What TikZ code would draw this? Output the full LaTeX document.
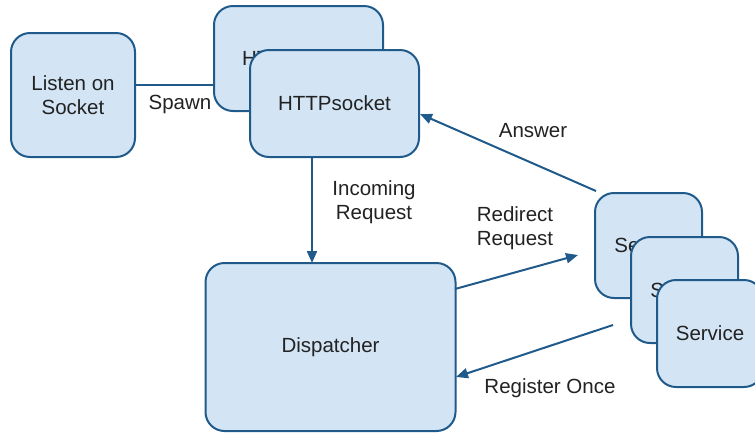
\documentclass[tikz,border=0pt]{standalone}
\usepackage{fontspec}
\setmainfont{Liberation Sans}
\usetikzlibrary{arrows.meta}
\definecolor{boxfill}{HTML}{D3E5F5}
\definecolor{boxline}{HTML}{1F5A8A}
\definecolor{txt}{HTML}{222222}
\tikzset{
  box/.style={draw=boxline, fill=boxfill, line width=2pt, rounded corners=19pt,
    text=txt, font=\fontsize{20.5}{23.5}\selectfont, align=center, inner sep=0pt},
  conn/.style={draw=boxline, line width=2pt},
  arr/.style={conn, -{Triangle[length=12pt,width=10pt]}},
  lbl/.style={text=txt, font=\fontsize{20.5}{23.5}\selectfont, align=center, inner sep=0pt}
}
\begin{document}
\begin{tikzpicture}[x=1pt,y=-1pt]
\useasboundingbox (0,0) rectangle (755,432);
\begin{scope}
\clip (0,0) rectangle (755,432);
% Listen on Socket
\node[box, minimum width=124pt, minimum height=124pt] (listen) at (73,95) {Listen on\\Socket};
% HTTP sockets
\node[box, minimum width=169pt, minimum height=105pt] (httpback) at (298.5,58.5) {HTTPsocket};
\node[box, minimum width=169pt, minimum height=107pt] (http) at (334.5,103.5) {HTTPsocket};
% Dispatcher
\node[box, minimum width=250pt, minimum height=168pt] (disp) at (330.5,347) {\raisebox{-2pt}{Dispatcher}};
% Services
\node[box, minimum width=107pt, minimum height=105pt] (svc1) at (648.5,245.5) {Service};
\node[box, minimum width=107pt, minimum height=106pt] (svc2) at (684.5,290) {Service};
\node[box, minimum width=106pt, minimum height=107pt] (svc3) at (710,333.5) {Service};
\end{scope}
% connectors
\coordinate (inA) at (312,157);
\coordinate (inB) at (312,263);
\draw[conn] (listen.east |- 0,85) -- (httpback.west |- 0,85);
\node[lbl] (spawn) at (180,104) {Spawn};
\draw[arr] (inA) -- (inB);
\node[lbl] (incoming) at (374,202) {Incoming\\Request};
\coordinate (ansA) at (596,191);
\coordinate (ansB) at (420,114);
\draw[arr] (ansA) -- (ansB);
\node[lbl] (answer) at (533,131) {Answer};
\coordinate (redA) at (455,289);
\coordinate (redB) at (578,255);
\draw[arr] (redA) -- (redB);
\node[lbl] (redirect) at (515,228) {Redirect\\Request};
\coordinate (regA) at (613,325);
\coordinate (regB) at (456,377);
\draw[arr] (regA) -- (regB);
\node[lbl] (register) at (550,388) {Register Once};
\end{tikzpicture}
\end{document}
